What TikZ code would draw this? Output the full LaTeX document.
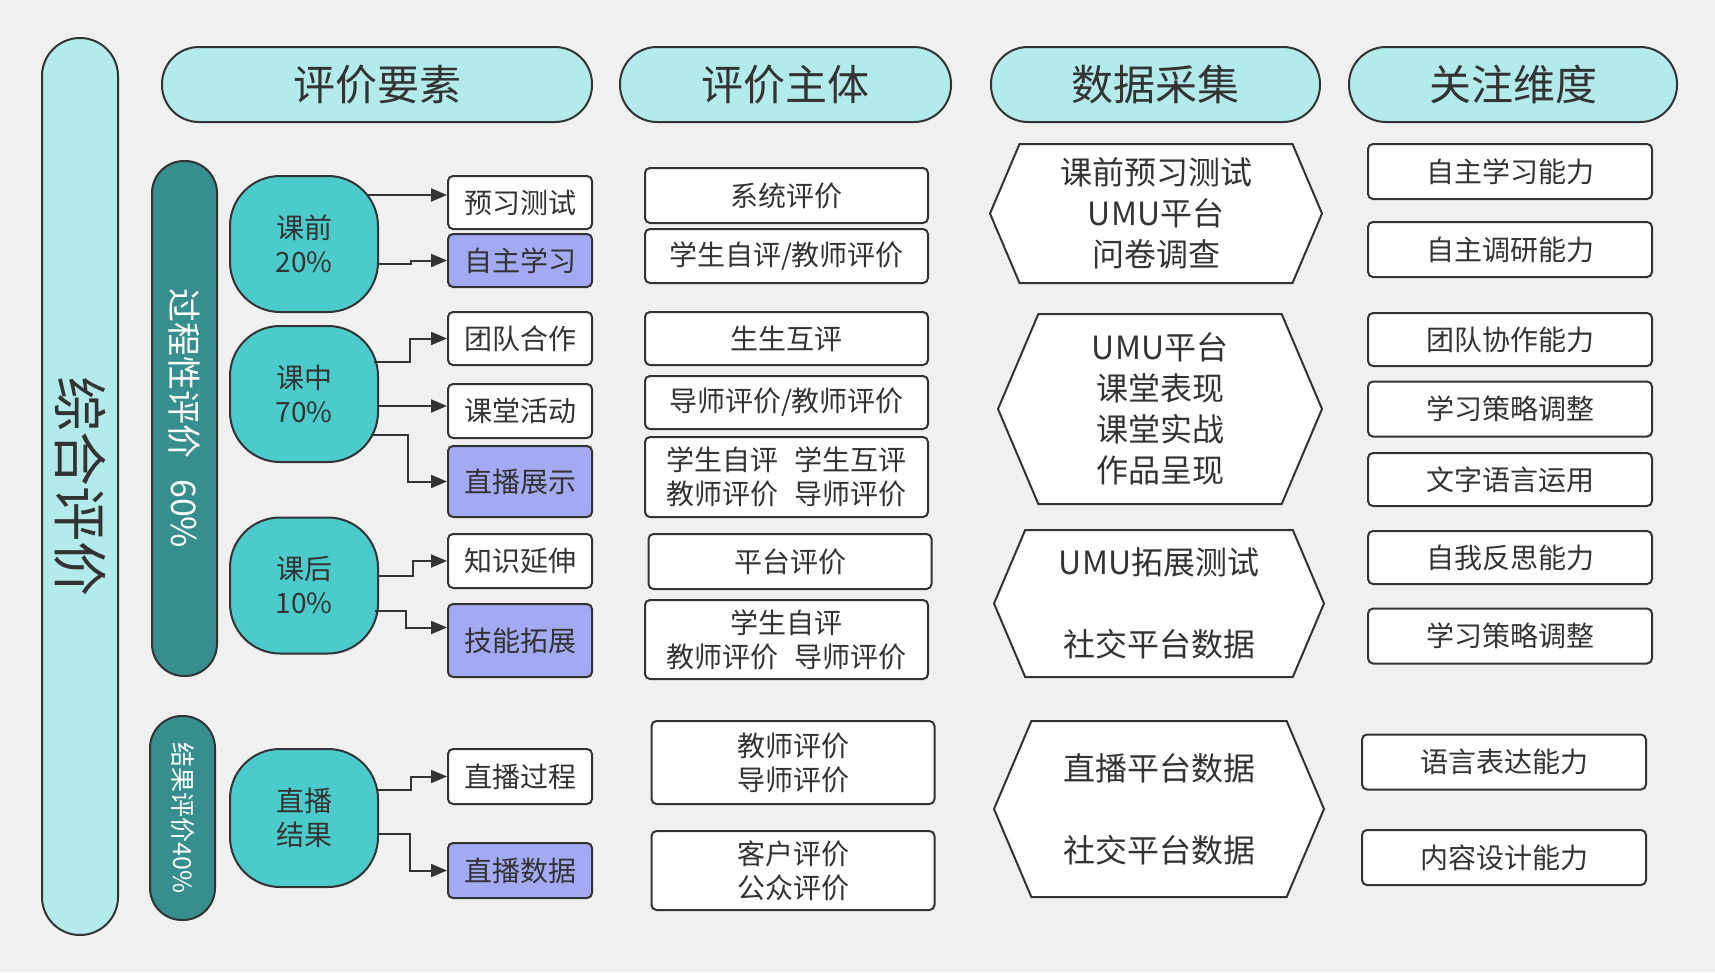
\documentclass[tikz,border=0pt]{standalone}
\usepackage{fontspec}
\setmainfont{Noto Sans CJK SC}
\usetikzlibrary{arrows.meta,shapes.symbols}
\definecolor{bgc}{HTML}{F0F0F0}
\definecolor{qing}{HTML}{B3EAEA}
\definecolor{shen}{HTML}{368E8E}
\definecolor{lan}{HTML}{4BCBCB}
\definecolor{zi}{HTML}{A3AAF2}
\definecolor{xian}{HTML}{333333}

\tikzset{
  kuang/.style={draw=xian, line width=2pt, text=xian, inner sep=0pt},
  biaoti/.style={kuang, fill=qing, rounded corners=37pt, minimum height=75pt, font=\fontsize{42}{48}\selectfont},
  zhu/.style={kuang, fill=qing, rounded corners=38pt, minimum width=897pt, minimum height=76pt, rotate=-90, font=\fontsize{55}{60}\selectfont},
  tiao/.style={kuang, fill=shen, text=white, rounded corners=32pt, minimum height=65pt, rotate=-90},
  tuan/.style={kuang, fill=lan, rounded corners=50pt, minimum width=148pt, minimum height=136pt, align=center, font=\fontsize{28}{34}\selectfont},
  xiang/.style={kuang, fill=white, rounded corners=5pt, minimum width=144pt, align=center, font=\fontsize{28}{34}\selectfont},
  zixiang/.style={xiang, fill=zi},
  zhuti/.style={kuang, fill=white, rounded corners=5pt, minimum width=283pt, align=center, font=\fontsize{28}{34}\selectfont},
  liu/.style={kuang, fill=white, shape=signal, signal to=west and east, signal pointer angle=134, align=center, font=\fontsize{32}{41}\selectfont},
  weidu/.style={kuang, fill=white, rounded corners=5pt, minimum width=284pt, minimum height=55pt, font=\fontsize{28}{34}\selectfont},
  jian/.style={draw=xian, line width=2pt, -{Triangle[length=16pt,width=13pt]}},
}

\begin{document}
\begin{tikzpicture}[x=1pt, y=-1pt]
  \useasboundingbox (0,0) rectangle (1715,972);
  \fill[bgc] (0,0) rectangle (1715,972);

  % 总栏与表头
  \node[zhu] (zh) at (80,486.5) {综合评价};
  \node[biaoti, minimum width=430pt] (t1) at (377,84.5) {评价要素};
  \node[biaoti, minimum width=331pt] (t2) at (785.5,84.5) {评价主体};
  \node[biaoti, minimum width=329pt] (t3) at (1155.5,84.5) {数据采集};
  \node[biaoti, minimum width=328pt] (t4) at (1513,84.5) {关注维度};

  % 评价要素
  \node[tiao, minimum width=515pt, font=\fontsize{34}{40}\selectfont] (gc) at (184.5,418.5) {过程性评价\hspace{0.6em}60\%};
  \node[tiao, minimum width=204pt, font=\fontsize{25}{30}\selectfont] (jg) at (182.5,818) {结果评价40\%};

  \node[tuan] (kq) at (304,244) {课前\\20\%};
  \node[tuan] (kz) at (304,394) {课中\\70\%};
  \node[tuan] (kh) at (304,585.5) {课后\\10\%};
  \node[tuan, minimum height=138pt] (zj) at (304,818) {直播\\结果};

  \node[xiang, minimum height=53pt] (yx) at (520,202.5) {预习测试};
  \node[zixiang, minimum height=53pt] (zx) at (520,260.5) {自主学习};
  \node[xiang, minimum height=53pt] (td) at (520,338.5) {团队合作};
  \node[xiang, minimum height=54pt] (kt) at (520,411) {课堂活动};
  \node[zixiang, minimum height=71pt] (zb) at (520,481.5) {直播展示};
  \node[xiang, minimum height=54pt] (zs) at (520,561) {知识延伸};
  \node[zixiang, minimum height=73pt] (jn) at (520,640.5) {技能拓展};
  \node[xiang, minimum height=55pt] (zg) at (520,776.5) {直播过程};
  \node[zixiang, minimum height=55pt] (zd) at (520,870.5) {直播数据};

  \coordinate (a1) at (367,195);
  \coordinate (a2) at (377,264);
  \coordinate (a3) at (374,362);
  \coordinate (a4) at (378,406);
  \coordinate (a5) at (371,435);
  \coordinate (a6) at (377,576);
  \coordinate (a7) at (375,611);
  \coordinate (a8) at (377,790);
  \coordinate (a9) at (378,834);
  \draw[jian] (a1) -- (a1 -| yx.west);
  \draw[jian] (a2) -- ++(34,0) |- (zx.west);
  \draw[jian] (a3) -- ++(36,0) |- (td.west);
  \draw[jian] (a4) -- (a4 -| kt.west);
  \draw[jian] (a5) -- ++(37,0) |- (zb.west);
  \draw[jian] (a6) -- ++(36,0) |- (zs.west);
  \draw[jian] (a7) -- ++(31,0) |- ([yshift=13pt]jn.west);
  \draw[jian] (a8) -- ++(34,0) |- (zg.west);
  \draw[jian] (a9) -- ++(32,0) |- (zd.west);

  % 评价主体
  \node[zhuti, minimum height=55pt] (p1) at (786.5,195.5) {系统评价};
  \node[zhuti, minimum height=54pt] (p2) at (786.5,256) {学生自评/教师评价};
  \node[zhuti, minimum height=53pt] (p3) at (786.5,338.5) {生生互评};
  \node[zhuti, minimum height=53pt] (p4) at (786.5,402.5) {导师评价/教师评价};
  \node[zhuti, minimum height=80pt] (p5) at (786.5,477) {学生自评\hspace{0.6em}学生互评\\教师评价\hspace{0.6em}导师评价};
  \node[zhuti, minimum height=55pt] (p6) at (790,561.5) {平台评价};
  \node[zhuti, minimum height=79pt] (p7) at (786.5,639.5) {学生自评\\教师评价\hspace{0.6em}导师评价};
  \node[zhuti, minimum height=83pt] (p8) at (793,762.5) {教师评价\\导师评价};
  \node[zhuti, minimum height=79pt] (p9) at (793,870.5) {客户评价\\公众评价};

  % 数据采集
  \node[liu, minimum width=332pt, minimum height=139pt] (s1) at (1156,213.5) {课前预习测试\\UMU平台\\问卷调查};
  \node[liu, minimum width=324pt, minimum height=190pt] (s2) at (1160,409) {UMU平台\\课堂表现\\课堂实战\\作品呈现};
  \node[liu, minimum width=330pt, minimum height=147pt] (s3) at (1159,603.5) {UMU拓展测试\\[41pt]社交平台数据};
  \node[liu, minimum width=330pt, minimum height=176pt] (s4) at (1159,809) {直播平台数据\\[41pt]社交平台数据};

  % 关注维度
  \node[weidu] (w1) at (1510,171.5) {自主学习能力};
  \node[weidu] (w2) at (1510,249.5) {自主调研能力};
  \node[weidu, minimum height=53pt] (w3) at (1510,339.5) {团队协作能力};
  \node[weidu] (w4) at (1510,409) {学习策略调整};
  \node[weidu, minimum height=53pt] (w5) at (1510,479.5) {文字语言运用};
  \node[weidu, minimum height=53pt] (w6) at (1510,557.5) {自我反思能力};
  \node[weidu] (w7) at (1510,636) {学习策略调整};
  \node[weidu] (w8) at (1504,762) {语言表达能力};
  \node[weidu] (w9) at (1504,857.5) {内容设计能力};
\end{tikzpicture}
\end{document}
